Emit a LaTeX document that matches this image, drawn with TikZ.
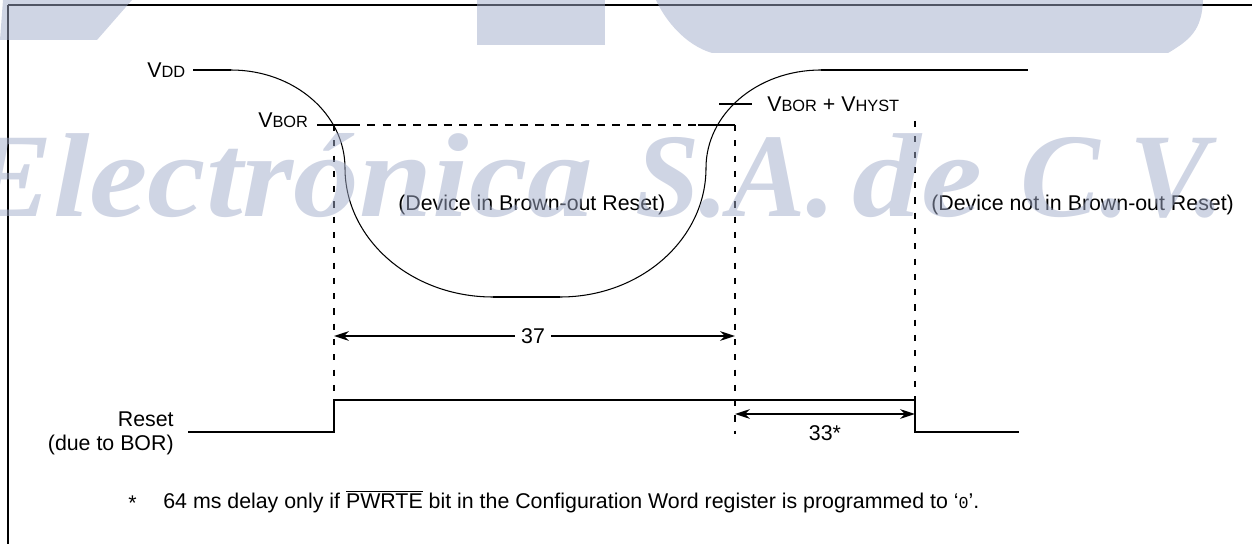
\documentclass[tikz,border=0pt]{standalone}
\usepackage{fontspec}
\setmainfont{Liberation Sans}
\newfontfamily\markfont{Liberation Serif}
\newfontfamily\zerofont{Liberation Mono}
\usetikzlibrary{arrows.meta}
\definecolor{markblue}{HTML}{A0ABC9}
\newcommand{\lowcap}[1]{{\fontsize{9.3}{11}\selectfont #1}}
\tikzset{
  heavy/.style={line width=1.15pt},
  fine/.style={line width=0.6pt},
  dashline/.style={line width=1.15pt, dash pattern=on 4.6pt off 4.1pt},
  dashdown/.style={line width=1.15pt, dash pattern=on 3.5pt off 5.2pt},
  span/.style={heavy, {Stealth[length=8.5pt,width=5.5pt]}-{Stealth[length=8.5pt,width=5.5pt]}},
  lab/.style={inner sep=0pt, font=\fontsize{12.15}{13.6}\selectfont},
  markword/.style={inner sep=0pt, anchor=base west, transform shape, text=markblue, text opacity=0.5, font=\fontsize{68}{68}\markfont\bfseries\itshape},
  markpiece/.style={fill=markblue, fill opacity=0.5, draw=none}
}
\begin{document}
\begin{tikzpicture}[x=0.02cm, y=-0.02cm]
        \useasboundingbox (0,0) rectangle (1252,544);
        % Frame
        \coordinate (frame_bl) at (8,544);
        \coordinate (frame_tl) at (8,5);
        \coordinate (frame_tr) at (1252,5);
        \draw[line width=0.9pt] (frame_bl) -- (frame_tl);
        \draw[heavy] (frame_tl) -- (frame_tr);
        % Labels on the left
        \node (vdd) at (147,70) [lab, anchor=west] {V\lowcap{DD}};
        \node (vbor) at (258,120) [lab, anchor=west] {V\lowcap{BOR}};
        \node (vhyst) at (767,104) [lab, anchor=west] {V\lowcap{BOR} + V\lowcap{HYST}};
        \node (inreset) at (398,205) [lab, anchor=west] {(Device in Brown-out Reset)};
        \node (outreset) at (931,205) [lab, anchor=west] {(Device not in Brown-out Reset)};
        \node (resetlab) at (174,433) [lab, anchor=east, align=right] {Reset\\(due to BOR)};
        % Supply curve
        \coordinate (a0) at (193,70);
        \coordinate (a1) at (231,70);
        \coordinate (a2) at (345,168);
        \coordinate (a3) at (493,297);
        \coordinate (a4) at (560,297);
        \coordinate (a5) at (706,168);
        \coordinate (a6) at (821,70);
        \coordinate (a7) at (1028,70);
        \draw[heavy] (a0) -- (a1);
        \draw[fine] (a1) .. controls (294,70) and (345,114) .. (a2)
          .. controls (345,239) and (411,297) .. (a3);
        \draw[heavy] (a3) -- (a4);
        \draw[fine] (a4) .. controls (641,297) and (706,239) .. (a5)
          .. controls (706,114) and (757,70) .. (a6);
        \draw[heavy] (a6) -- (a7);
        % Levels and guides
        \coordinate (t1) at (719,104);
        \coordinate (t2) at (752,104);
        \coordinate (b1) at (317,125);
        \coordinate (b2) at (352,125);
        \coordinate (b3) at (698,125);
        \coordinate (b4) at (735,125);
        \coordinate (g1) at (334,125);
        \coordinate (g2) at (334,400);
        \coordinate (g3) at (735,434);
        \coordinate (g4) at (915,121);
        \coordinate (g5) at (915,400);
        \draw[heavy] (t1) -- (t2);
        \draw[heavy] (b1) -- (b2);
        \draw[dashline] (b2) -- (b3);
        \draw[heavy] (b3) -- (b4);
        \draw[dashdown] (g1) -- (g2);
        \draw[dashdown] (b4) -- (g3);
        \draw[dashdown] (g4) -- (g5);
        % Reset line
        \coordinate (r0) at (188,432);
        \coordinate (r1) at (334,432);
        \coordinate (r3) at (915,432);
        \coordinate (r4) at (1019,432);
        \draw[heavy, line join=miter] (r0) -- (r1) -- (g2) -- (g5) -- (r3) -- (r4);
        % Spans
        \coordinate (s1) at (334,336);
        \coordinate (s2) at (735,336);
        \coordinate (s3) at (735,414);
        \coordinate (s4) at (915,414);
        \draw[span] (s1) -- (s2);
        \node (n37) at (533,336) [lab, fill=white, inner xsep=3.4pt, inner ysep=2pt] {37};
        \draw[span] (s3) -- (s4);
        \node (n33) at (825,433) [lab] {33*};
        % Note
        \node (star) at (128,503) [lab, anchor=west] {*};
        \node (note) at (163,508) [lab, anchor=base west] {64 ms delay only if $\overline{\mbox{PWRTE}}$ bit in the Configuration Word register is programmed to `{\zerofont\fontsize{9.5}{11}\selectfont 0}'.};
        % Watermark
        \fill[markpiece] (3,0) -- (132,0) -- (97,40) -- (0,40) -- cycle;
        \fill[markpiece] (477,0) rectangle (605,45);
        \fill[markpiece] (656,0) -- (1203,0) .. controls (1202,30) and (1190,40) .. (1168,53)
          -- (712,53) .. controls (685,45) and (665,20) .. cycle;
        \node (m1) at (-35,216) [markword, xscale=1.1] {Electrónica};
        \node (m2) at (635,216) [markword, xscale=0.97] {S.A.};
        \node (m3) at (852,216) [markword, xscale=1.15] {de};
        \node (m4) at (1020,216) [markword] {C.V.};
\end{tikzpicture}
\end{document}
